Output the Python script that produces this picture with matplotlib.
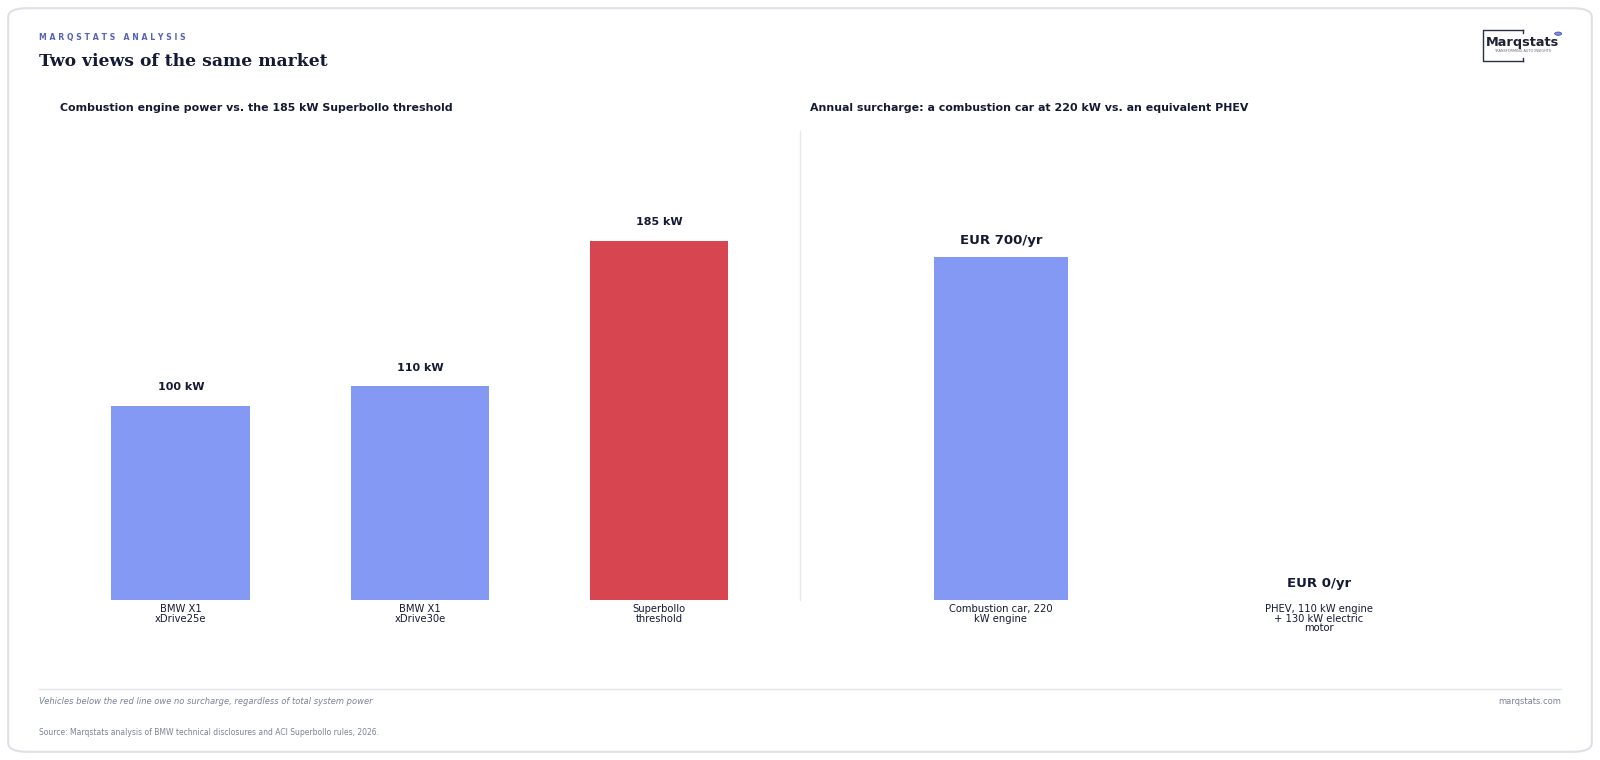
import matplotlib
matplotlib.use("Agg")
import matplotlib.pyplot as plt
from matplotlib.patches import FancyBboxPatch

left_cats = ["BMW X1\nxDrive25e", "BMW X1\nxDrive30e", "Superbollo\nthreshold"]
left_vals = [100, 110, 185]
left_labels = ["100 kW", "110 kW", "185 kW"]
right_cats = ["Combustion car, 220\nkW engine", "PHEV, 110 kW engine\n+ 130 kW electric\nmotor"]
right_vals = [700, 0]
right_labels = ["EUR 700/yr", "EUR 0/yr"]

W, H = 1568, 745
fig = plt.figure(figsize=(16, 7.6), dpi=100)
fig.patch.set_facecolor("white")
def fx(x): return x / W
def fy(y): return 1 - y / H

card = FancyBboxPatch((fx(8), fy(737)), fx(1552), 729 / H, boxstyle="round,pad=0,rounding_size=0.012",
                      transform=fig.transFigure, fc="none", ec="#dfe1e6", lw=1.5, zorder=-5)
fig.patches.append(card)

fig.text(fx(38), fy(37), "M A R Q S T A T S   A N A L Y S I S", fontsize=5.6, color="#5563b8", weight="bold",
         va="center")
fig.text(fx(38), fy(60), "Two views of the same market", fontsize=12.3, color="#141a33",
         weight="bold", va="center", family="DejaVu Serif")

# logo
k = dict(transform=fig.transFigure, color="#2a2f45", lw=1)
fig.add_artist(plt.Line2D([fx(1493), fx(1453), fx(1453), fx(1493)], [fy(29), fy(29), fy(60), fy(60)], **k))
fig.add_artist(plt.Line2D([fx(1493), fx(1493)], [fy(29), fy(32)], **k))
fig.add_artist(plt.Line2D([fx(1493), fx(1493)], [fy(57), fy(60)], **k))
fig.text(fx(1492), fy(42), "Marqstats", fontsize=9.3, color="#1e2233", ha="center", va="center", weight="bold")
fig.text(fx(1492), fy(50), "TRANSFORMING AUTO INSIGHTS", fontsize=2.5, color="#667", ha="center", va="center")
fig.add_artist(plt.Circle((fx(1527), fy(33)), 0.0022, transform=fig.transFigure, fc="#7f8ae8", ec="#3b48a8", lw=0.5))

blue = "#8499f4"
red = "#d64550"
tc = "#141a33"

axL = fig.add_axes([fx(60), fy(588), fx(703), 460 / H])
xs = range(len(left_vals))
axL.bar(xs, left_vals, width=0.58, color=[blue, blue, red])
for x, v, l in zip(xs, left_vals, left_labels):
    axL.text(x, v + 7, l, ha="center", va="bottom", fontsize=8, weight="bold", color=tc)
axL.set_xlim(-0.5, 2.5)
axL.set_ylim(0, 241.7)
axL.set_xticks(list(xs))
axL.set_xticklabels(left_cats, fontsize=7.2, color=tc, linespacing=0.95)
fig.text(fx(59), fy(106), "Combustion engine power vs. the 185 kW Superbollo threshold",
         fontsize=7.9, weight="bold", color=tc, va="center")

axR = fig.add_axes([fx(825), fy(588), fx(623), 460 / H])
xs2 = range(len(right_vals))
axR.bar(xs2, right_vals, width=0.42, color=blue)
for x, v, l in zip(xs2, right_vals, right_labels):
    axR.text(x, v + 20, l, ha="center", va="bottom", fontsize=9.5, weight="bold", color=tc)
axR.set_xlim(-0.5, 1.5)
axR.set_ylim(0, 958)
axR.set_xticks(list(xs2))
axR.set_xticklabels(right_cats, fontsize=7.2, color=tc, linespacing=0.95)
fig.text(fx(794), fy(106), "Annual surcharge: a combustion car at 220 kW vs. an equivalent PHEV",
         fontsize=7.9, weight="bold", color=tc, va="center")

for ax in (axL, axR):
    for s in ax.spines.values():
        s.set_visible(False)
    ax.set_yticks([])
    ax.tick_params(axis="x", length=0, pad=3)

fig.add_artist(plt.Line2D([fx(784), fx(784)], [fy(128), fy(588)], transform=fig.transFigure,
                          color="#e6e8ec", lw=1))
fig.add_artist(plt.Line2D([fx(38), fx(1530)], [fy(675), fy(675)], transform=fig.transFigure,
                          color="#e3e5ea", lw=1))
fig.text(fx(38), fy(688), "Vehicles below the red line owe no surcharge, regardless of total system power",
         fontsize=6, style="italic", color="#7a8296", va="center")
fig.text(fx(1530), fy(688), "marqstats.com", fontsize=6, color="#7a8296", va="center", ha="right")
fig.text(fx(38), fy(718), "Source: Marqstats analysis of BMW technical disclosures and ACI Superbollo rules, 2026.",
         fontsize=5.5, color="#7a8296", va="center")

fig.savefig("out.png", dpi=100, facecolor="white")
